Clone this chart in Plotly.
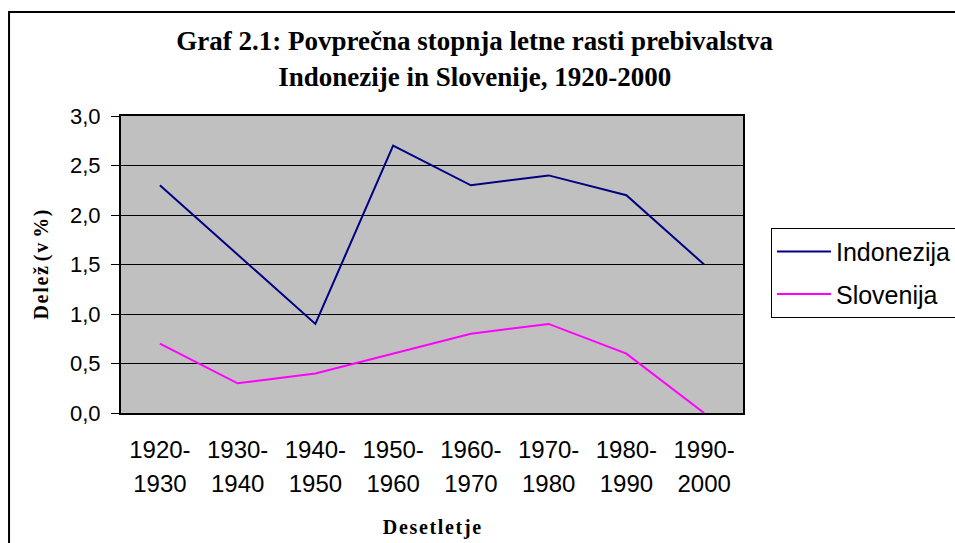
import plotly.graph_objects as go

categories = ["1920-1930", "1930-1940", "1940-1950", "1950-1960",
              "1960-1970", "1970-1980", "1980-1990", "1990-2000"]
tick_row1 = ["1920-", "1930-", "1940-", "1950-", "1960-", "1970-", "1980-", "1990-"]
tick_row2 = ["1930", "1940", "1950", "1960", "1970", "1980", "1990", "2000"]
indonezija = [2.3, 1.6, 0.9, 2.7, 2.3, 2.4, 2.2, 1.5]
slovenija = [0.7, 0.3, 0.4, 0.6, 0.8, 0.9, 0.6, 0.0]
y_ticks = [0.0, 0.5, 1.0, 1.5, 2.0, 2.5, 3.0]

title_line1 = "Graf 2.1: Povprečna stopnja letne rasti prebivalstva"
title_line2 = "Indonezije in Slovenije, 1920-2000"
x_title = "Desetletje"
y_title = "Delež (v %)"

serif = "Liberation Serif, Times New Roman, serif"
sans = "Liberation Sans, Arial, sans-serif"
HS = "\u200a"  # hair space for letter spacing


def spaced(s):
    out = ""
    for i, ch in enumerate(s):
        out += ch
        if i < len(s) - 1 and ch != " " and s[i + 1] != " ":
            out += HS
    return out


fig = go.Figure()
fig.add_trace(go.Scatter(x=categories, y=indonezija, mode="lines", name="Indonezija",
                         legendgroup="a", line=dict(color="#000080", width=2)))
fig.add_trace(go.Scatter(x=categories, y=slovenija, mode="lines", name="Slovenija",
                         legendgroup="b", line=dict(color="#FF00FF", width=2)))
# invisible helper trace so that the second-row category axis has data
fig.add_trace(go.Scatter(x=categories, y=slovenija, mode="lines", xaxis="x2",
                         showlegend=False, hoverinfo="skip",
                         line=dict(color="rgba(0,0,0,0)", width=0)))

fig.update_layout(
    width=955, height=543,
    margin=dict(l=121, r=212, t=116, b=130, autoexpand=False),
    paper_bgcolor="white",
    plot_bgcolor="#C0C0C0",
    separators=",.",
    title=dict(text="<b>" + title_line1 + "</b><br><b>" + title_line2 + "</b>",
               x=0.497, xanchor="center", y=0.907, yanchor="top",
               font=dict(family=serif, size=27, color="black")),
    showlegend=True,
    legend=dict(x=1.045, y=0.624, xanchor="left", yanchor="top",
                bgcolor="white", bordercolor="black", borderwidth=1,
                font=dict(family=sans, size=25, color="black"),
                itemwidth=54, entrywidth=160, tracegroupgap=7,
                traceorder="grouped"),
    xaxis=dict(type="category", range=[-0.5, 7.5], showgrid=False, ticks="",
               tickmode="array", tickvals=categories, ticktext=tick_row1,
               ticklabelstandoff=14,
               showline=True, linecolor="black", linewidth=2, mirror=True,
               tickfont=dict(family=sans, size=24, color="black"),
               title=dict(text="<b>" + spaced(x_title) + "</b>", standoff=58,
                          font=dict(family=serif, size=20, color="black"))),
    xaxis2=dict(type="category", overlaying="x", side="bottom", matches="x",
                showgrid=False, ticks="", showline=False, zeroline=False,
                tickmode="array", tickvals=categories, ticktext=tick_row2,
                ticklabelstandoff=54,
                tickfont=dict(family=sans, size=24, color="black")),
    yaxis=dict(range=[0, 3], tickvals=y_ticks, tickformat=".1f",
               showgrid=True, gridcolor="black", gridwidth=1,
               ticks="outside", ticklen=8, tickcolor="black", tickwidth=1,
               ticklabelstandoff=6,
               showline=True, linecolor="black", linewidth=2, mirror=True,
               zeroline=False,
               tickfont=dict(family=sans, size=22, color="black"),
               title=dict(text="<b>" + spaced(y_title) + "</b>", standoff=16,
                          font=dict(family=serif, size=20, color="black"))),
    shapes=[dict(type="rect", xref="paper", yref="paper",
                 x0=-0.1800, x1=1.45, y0=-0.55, y1=1.3502,
                 line=dict(color="black", width=2), fillcolor="rgba(0,0,0,0)",
                 layer="below")],
)

fig.write_html(
    "out.html",
    config={"displayModeBar": False},
    post_script="document.body.style.margin='0';document.body.style.overflow='hidden';",
)
